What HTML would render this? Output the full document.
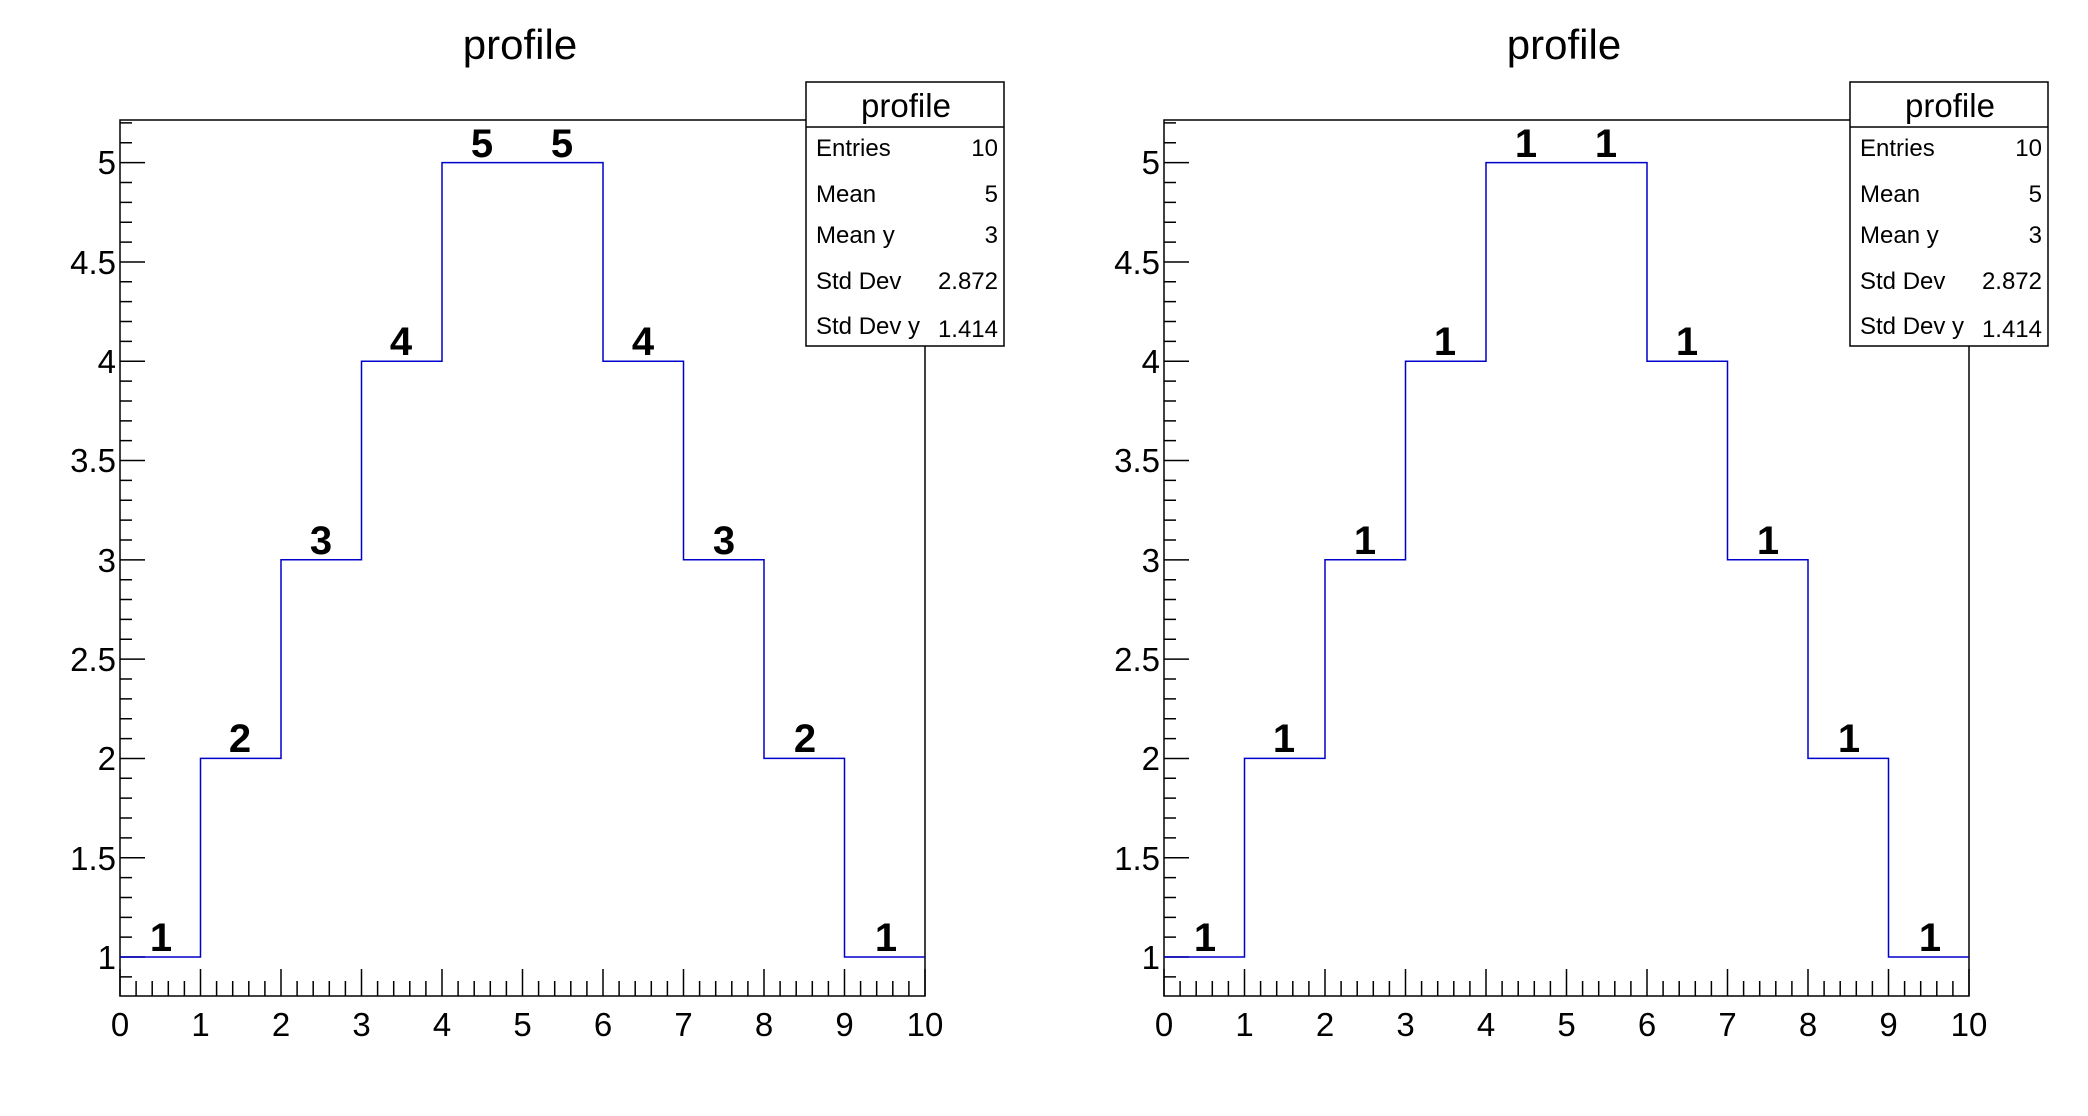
<!DOCTYPE html>
<html><head><meta charset="utf-8"><style>
html,body{margin:0;padding:0;background:#fff;}
svg{display:block;font-family:"Liberation Sans",sans-serif;}
</style></head><body>
<svg width="2088" height="1116" viewBox="0 0 2088 1116" xmlns="http://www.w3.org/2000/svg">
<defs>
<g id="frame">
<rect x="120" y="120" width="805" height="876" fill="none" stroke="#000" stroke-width="1.5"/>
<path fill="none" stroke="#000" stroke-width="1.5" d="M120 996v-27m16.1 27v-15m16.1 15v-15m16.1 15v-15m16.1 15v-15m16.1 15v-27m16.1 27v-15m16.1 15v-15m16.1 15v-15m16.1 15v-15m16.1 15v-27m16.1 27v-15m16.1 15v-15m16.1 15v-15m16.1 15v-15m16.1 15v-27m16.1 27v-15m16.1 15v-15m16.1 15v-15m16.1 15v-15m16.1 15v-27m16.1 27v-15m16.1 15v-15m16.1 15v-15m16.1 15v-15m16.1 15v-27m16.1 27v-15m16.1 15v-15m16.1 15v-15m16.1 15v-15m16.1 15v-27m16.1 27v-15m16.1 15v-15m16.1 15v-15m16.1 15v-15m16.1 15v-27m16.1 27v-15m16.1 15v-15m16.1 15v-15m16.1 15v-15m16.1 15v-27m16.1 27v-15m16.1 15v-15m16.1 15v-15m16.1 15v-15m16.1 15v-27m16.1 27v-15m16.1 15v-15m16.1 15v-15m16.1 15v-15m16.1 15v-27"/>
<path fill="none" stroke="#000" stroke-width="1.5" d="M120 976.9h12m-12 -19.86h25m-25 -19.86h12m-12 -19.86h12m-12 -19.86h12m-12 -19.86h12m-12 -19.86h25m-25 -19.86h12m-12 -19.86h12m-12 -19.86h12m-12 -19.86h12m-12 -19.86h25m-25 -19.86h12m-12 -19.86h12m-12 -19.86h12m-12 -19.86h12m-12 -19.86h25m-25 -19.86h12m-12 -19.86h12m-12 -19.86h12m-12 -19.86h12m-12 -19.86h25m-25 -19.86h12m-12 -19.86h12m-12 -19.86h12m-12 -19.86h12m-12 -19.86h25m-25 -19.86h12m-12 -19.86h12m-12 -19.86h12m-12 -19.86h12m-12 -19.86h25m-25 -19.86h12m-12 -19.86h12m-12 -19.86h12m-12 -19.86h12m-12 -19.86h25m-25 -19.86h12m-12 -19.86h12m-12 -19.86h12m-12 -19.86h12m-12 -19.86h25m-25 -19.86h12m-12 -19.86h12"/>
<path fill="none" stroke="#0000cc" stroke-width="1.5" d="M120 957H200.5V758.4H281V559.8H361.5V361.2H442V162.6H603V361.2H683.5V559.8H764V758.4H844.5V957H925"/>
<rect x="806" y="82" width="198" height="264" fill="#fff" stroke="#000" stroke-width="1.5"/>
<line x1="806" y1="127" x2="1004" y2="127" stroke="#000" stroke-width="1.5"/>
</g>
</defs>
<use href="#frame"/>
<use href="#frame" x="1044"/>

<g font-size="42" text-anchor="middle">
<text x="520" y="59">profile</text>
<text x="1564" y="59">profile</text>
</g>

<g font-size="33" text-anchor="middle">
<text x="120" y="1036">0</text><text x="200.5" y="1036">1</text><text x="281" y="1036">2</text><text x="361.5" y="1036">3</text><text x="442" y="1036">4</text><text x="522.5" y="1036">5</text><text x="603" y="1036">6</text><text x="683.5" y="1036">7</text><text x="764" y="1036">8</text><text x="844.5" y="1036">9</text><text x="925" y="1036">10</text>
<text x="1164" y="1036">0</text><text x="1244.5" y="1036">1</text><text x="1325" y="1036">2</text><text x="1405.5" y="1036">3</text><text x="1486" y="1036">4</text><text x="1566.5" y="1036">5</text><text x="1647" y="1036">6</text><text x="1727.5" y="1036">7</text><text x="1808" y="1036">8</text><text x="1888.5" y="1036">9</text><text x="1969" y="1036">10</text>
</g>
<g font-size="33" text-anchor="end">
<text x="116" y="969">1</text><text x="116" y="870">1.5</text><text x="116" y="770">2</text><text x="116" y="671">2.5</text><text x="116" y="572">3</text><text x="116" y="472">3.5</text><text x="116" y="373">4</text><text x="116" y="274">4.5</text><text x="116" y="174">5</text>
<text x="1160" y="969">1</text><text x="1160" y="870">1.5</text><text x="1160" y="770">2</text><text x="1160" y="671">2.5</text><text x="1160" y="572">3</text><text x="1160" y="472">3.5</text><text x="1160" y="373">4</text><text x="1160" y="274">4.5</text><text x="1160" y="174">5</text>
</g>

<g font-size="40" font-weight="bold" text-anchor="middle">
<text x="161" y="951">1</text><text x="240" y="752">2</text><text x="321" y="554">3</text><text x="401" y="355">4</text><text x="482" y="157">5</text><text x="562" y="157">5</text><text x="643" y="355">4</text><text x="724" y="554">3</text><text x="805" y="752">2</text><text x="886" y="951">1</text>
<text x="1205" y="951">1</text><text x="1284" y="752">1</text><text x="1365" y="554">1</text><text x="1445" y="355">1</text><text x="1526" y="157">1</text><text x="1606" y="157">1</text><text x="1687" y="355">1</text><text x="1768" y="554">1</text><text x="1849" y="752">1</text><text x="1930" y="951">1</text>
</g>

<g font-size="33" text-anchor="middle">
<text x="906" y="117">profile</text>
<text x="1950" y="117">profile</text>
</g>
<g font-size="24">
<text x="816" y="156">Entries</text><text x="816" y="202">Mean</text><text x="816" y="243">Mean y</text><text x="816" y="289">Std Dev</text><text x="816" y="334">Std Dev y</text>
<text x="1860" y="156">Entries</text><text x="1860" y="202">Mean</text><text x="1860" y="243">Mean y</text><text x="1860" y="289">Std Dev</text><text x="1860" y="334">Std Dev y</text>
</g>
<g font-size="24" text-anchor="end">
<text x="998" y="156">10</text><text x="998" y="202">5</text><text x="998" y="243">3</text><text x="998" y="289">2.872</text><text x="998" y="337">1.414</text>
<text x="2042" y="156">10</text><text x="2042" y="202">5</text><text x="2042" y="243">3</text><text x="2042" y="289">2.872</text><text x="2042" y="337">1.414</text>
</g>
</svg>
</body></html>
